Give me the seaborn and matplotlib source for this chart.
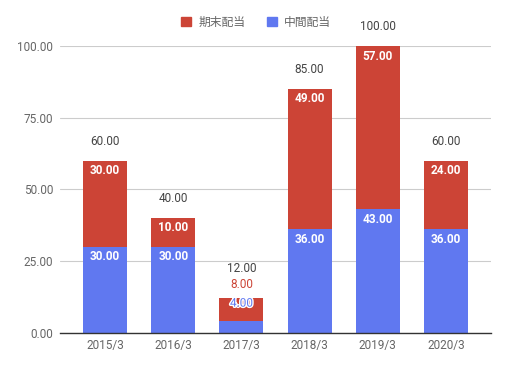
import matplotlib
matplotlib.use("Agg")
import matplotlib.pyplot as plt
import seaborn as sns
import pandas as pd
import matplotlib.patheffects as pe
from matplotlib.patches import Patch

categories = ["2015/3", "2016/3", "2017/3", "2018/3", "2019/3", "2020/3"]
interim = [30, 30, 4, 36, 43, 36]      # 中間配当
year_end = [30, 10, 8, 49, 57, 24]     # 期末配当
series_names = ["期末配当", "中間配当"]
yticks = [0, 25, 50, 75, 100]

RED = "#cc4436"
BLUE = "#6078f0"

sns.set_theme(style="white")
plt.rcParams["font.family"] = ["Roboto", "Noto Sans CJK JP", "DejaVu Sans"]

totals = [a + b for a, b in zip(interim, year_end)]
df = pd.DataFrame({"cat": categories, "interim": interim, "year_end": year_end, "total": totals})

fig = plt.figure(figsize=(5.08, 3.67), dpi=100)
ax = fig.add_axes([60 / 508, 1 - 332.5 / 367, 431 / 508, (332.5 - 46) / 367])

W = 0.645
sns.barplot(data=df, x="cat", y="total", color=RED, width=W, ax=ax, saturation=1,
            linewidth=0, edgecolor="none", zorder=3)
sns.barplot(data=df, x="cat", y="interim", color=BLUE, width=W, ax=ax, saturation=1,
            linewidth=0, edgecolor="none", zorder=4)

ax.set_xlim(-0.66, 5.66)
ax.set_ylim(0, 100)
ax.set_yticks(yticks)
ax.set_yticklabels([f"{v:.2f}" for v in yticks])
ax.set_xlabel("")
ax.set_ylabel("")
ax.grid(axis="y", color="#cccccc", linewidth=0.8, zorder=0)
ax.grid(axis="x", visible=False)
for s in ["left", "right", "top"]:
    ax.spines[s].set_visible(False)
ax.spines["bottom"].set_color("#333333")
ax.spines["bottom"].set_linewidth(1.0)
ax.spines["bottom"].set_zorder(6)
ax.tick_params(axis="both", length=0, labelsize=8.5, labelcolor="#666666")
ax.tick_params(axis="y", pad=5)
ax.tick_params(axis="x", pad=5)

for i, (b, r, t) in enumerate(zip(interim, year_end, totals)):
    inside = r >= 9
    ax.annotate(f"{t:.2f}", (i, t), xytext=(0, 19 if inside else 30), textcoords="offset pixels",
                ha="center", va="center", fontsize=8.5, color="#444444", annotation_clip=False)
    if inside:
        ax.annotate(f"{r:.2f}", (i, t), xytext=(0, -10), textcoords="offset pixels",
                    ha="center", va="center", fontsize=8.5, color="white", fontweight="bold", zorder=7)
        ax.annotate(f"{b:.2f}", (i, b), xytext=(0, -10), textcoords="offset pixels",
                    ha="center", va="center", fontsize=8.5, color="white", fontweight="bold", zorder=7)
    else:
        ax.annotate(f"{r:.2f}", (i, t), xytext=(0, 14), textcoords="offset pixels",
                    ha="center", va="center", fontsize=8.5, color=RED, zorder=7)
        ax.annotate(f"{b:.2f}", (i, t), xytext=(0, -5), textcoords="offset pixels",
                    ha="center", va="center", fontsize=8.5, color=BLUE, zorder=7,
                    path_effects=[pe.withStroke(linewidth=2, foreground="white")])

handles = [Patch(color=RED), Patch(color=BLUE)]
fig.legend(handles, series_names, loc="center", bbox_to_anchor=(256 / 508, 1 - 22 / 367),
           ncol=2, frameon=False, labelcolor="#666666",
           handlelength=0.9, handleheight=0.9, handletextpad=0.6, columnspacing=1.8,
           prop={"family": ["Noto Sans CJK JP"], "size": 8.5})

fig.savefig("out.png", dpi=100)
